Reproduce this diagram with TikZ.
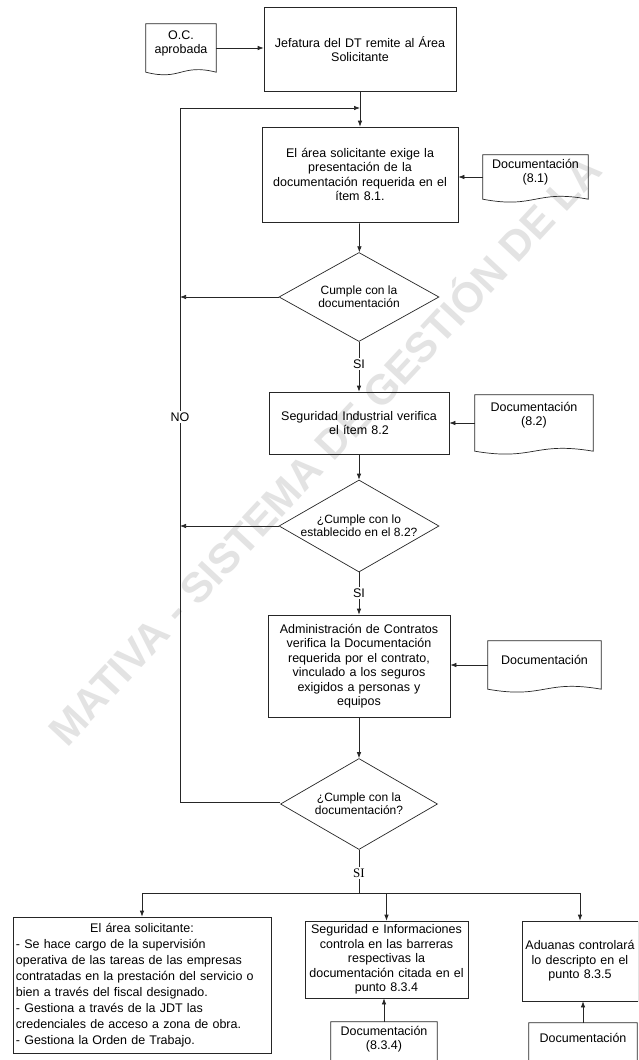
\documentclass[tikz,border=0pt]{standalone}
\usepackage{fontspec}
\setmainfont{Liberation Sans}
\newfontfamily\serifsi{Liberation Serif}
\usetikzlibrary{shapes.geometric,arrows.meta,calc}
\tikzset{
  x=1pt, y=-1pt,
  every node/.style={font=\fontsize{12.5}{14.5}\selectfont},
  ln/.style={line width=0.7pt, draw=black!85},
  box/.style={ln, draw, rectangle, inner sep=2pt, align=center},
  dia/.style={ln, draw, diamond, inner sep=0pt},
  docbody/.style={rectangle, inner sep=0pt},
  dtext/.style={align=center, font=\fontsize{12.5}{14}\selectfont},
  lbl/.style={fill=white, inner sep=1.5pt},
  arr/.style={ln, -{Latex[length=6pt,width=4.5pt]}},
}
\newcommand\docout[2]{\draw[ln] (#1.north west) -- (#1.north east) -- (#1.south east)
  .. controls ($(#1.south)+(0,-#2)$) and ($(#1.south)+(0,#2)$) .. (#1.south west) -- cycle;}
\begin{document}
\begin{tikzpicture}
\useasboundingbox (0,0) rectangle (638,1060);
\clip (0,0) rectangle (638,1060);
\fill[white] (0,0) rectangle (638,1060);
% watermark
\node[rotate=47, text=black!11, font=\fontsize{42}{44}\selectfont\bfseries] (wm) at (322,448) {MATIVA - SISTEMA DE GESTIÓN DE LA};

% boxes
\node[box, minimum width=192, minimum height=84, text width=186] (j) at (360,49) {Jefatura del DT remite al Área\\Solicitante\\[6pt]};
\node[docbody, minimum width=70, minimum height=48, label={[dtext, yshift=5pt, name=ocT]center:{O.C.\\aprobada}}] (oc) at (181,48) {};
\docout{oc}{9}

\node[box, minimum width=196, minimum height=95, text width=190] (b2) at (360,174.5) {El área solicitante exige la\\presentación de la\\documentación requerida en el\\ítem 8.1.};
\node[docbody, minimum width=105, minimum height=44, label={[dtext, yshift=5pt, name=d81T]center:{Documentación\\(8.1)}}] (doc81) at (535.5,177) {};
\docout{doc81}{10}

\node[dia, minimum width=160, minimum height=89] (d1) at (359,297) {};
\node[dtext, font=\fontsize{12}{13}\selectfont] (d1t) at (d1) {Cumple con la\\documentación};

\node[box, minimum width=180, minimum height=62, text width=176] (b3) at (359,423) {Seguridad Industrial verifica\\el ítem 8.2};
\node[docbody, minimum width=118, minimum height=56, label={[dtext, yshift=8pt, name=d82T]center:{Documentación\\(8.2)}}] (doc82) at (534,423) {};
\docout{doc82}{10}

\node[dia, minimum width=160, minimum height=92] (d2) at (359,526) {};
\node[dtext, font=\fontsize{12}{13}\selectfont] (d2t) at (d2) {¿Cumple con lo\\establecido en el 8.2?};

\node[box, minimum width=180, minimum height=102, text width=178] (b4) at (359,666) {Administración de Contratos\\verifica la Documentación\\requerida por el contrato,\\vinculado a los seguros\\exigidos a personas y\\equipos};
\node[docbody, minimum width=113, minimum height=48, label={[dtext, yshift=5pt, name=d4T]center:{Documentación}}] (doc4) at (544.5,665) {};
\docout{doc4}{10}

\node[dia, minimum width=157, minimum height=91] (d3) at (359,804) {};
\node[dtext, font=\fontsize{12}{13}\selectfont] (d3t) at (d3) {¿Cumple con la\\documentación?};

\node[box, minimum width=258, minimum height=136, text width=252, align=left, font=\fontsize{12.5}{16}\selectfont] (ba) at (142,985) {\makebox[252pt]{El área solicitante:}\\- Se hace cargo de la supervisión\\operativa de las tareas de las empresas\\contratadas en la prestación del servicio o\\bien a través del fiscal designado.\\- Gestiona a través de la JDT las\\credenciales de acceso a zona de obra.\\- Gestiona la Orden de Trabajo.};
\node[box, minimum width=161, minimum height=77, text width=159] (bb) at (386.5,959.5) {Seguridad e Informaciones\\controla en las barreras\\respectivas la\\documentación citada en el\\punto 8.3.4};
\node[box, minimum width=114, minimum height=80, text width=112] (bc) at (580,961) {Aduanas controlará\\lo descripto en el\\punto 8.3.5};

\node[docbody, minimum width=106, minimum height=42, label={[dtext, yshift=4pt, name=dbT]center:{Documentación\\(8.3.4)}}] (docb) at (384,1043) {};
\docout{docb}{10}
\node[docbody, minimum width=108, minimum height=42, label={[dtext, yshift=6pt, name=dcT]center:{Documentación}}] (docc) at (583,1044) {};
\docout{docc}{10}

% connectors
\draw[arr] (oc.east) -- (oc.east -| j.west);
\draw[arr] (j) -- (b2);
\coordinate (lt) at (180,108);
\coordinate (lb) at (180,802);
\draw[arr] (d3.west |- lb) -- (lb) -- (lt) -- (lt -| j.south);
\draw[arr] (d1.west) -- (d1.west -| lt);
\draw[arr] (d2.west) -- (d2.west -| lt);
\draw[arr] (doc81.west) -- (doc81.west -| b2.east);
\draw[arr] (b2) -- (d1);
\draw[arr] (d1) -- (b3);
\draw[arr] (doc82.west) -- (doc82.west -| b3.east);
\draw[arr] (b3) -- (d2);
\draw[arr] (d2) -- (b4);
\draw[arr] (doc4.west) -- (doc4.west -| b4.east);
\draw[arr] (b4) -- (d3);
\coordinate (bus) at (359,893);
\draw[ln] (d3.south) -- (bus);
\draw[arr] (bus) -| (ba.north);
\draw[arr] (bus) -| (bb.north);
\draw[arr] (bus) -| (bc.north);
\draw[arr] (docb.north) -- (docb.north |- bb.south);
\draw[arr] (docc.north) -- (docc.north |- bc.south);

% labels
\node[lbl] (no) at (180,417) {NO};
\node[lbl] (si1) at (359,364) {SI};
\node[lbl] (si2) at (359,593) {SI};
\node[lbl, font=\fontsize{13}{14}\serifsi] (si3) at (359,873) {SI};
\end{tikzpicture}
\end{document}
